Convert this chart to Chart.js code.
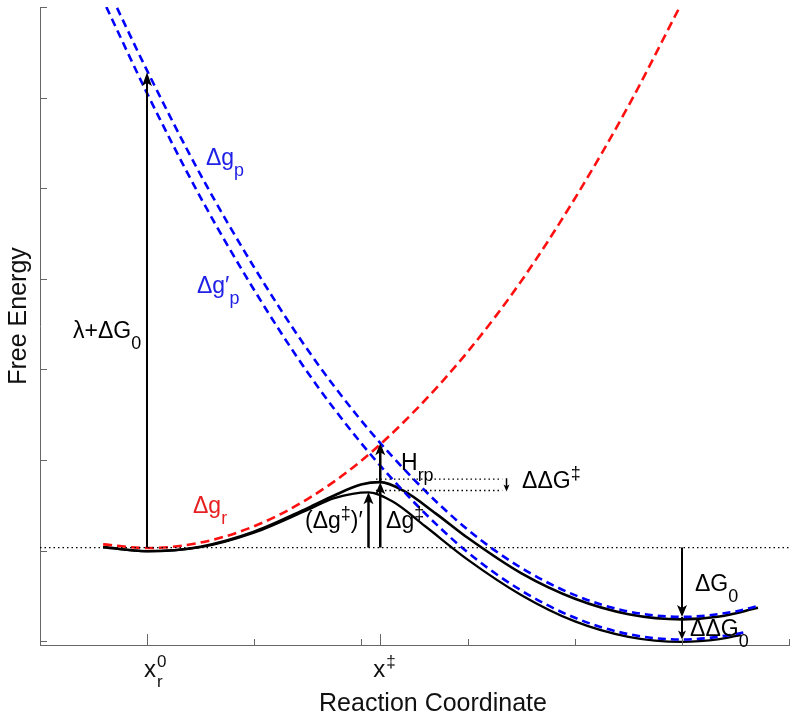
<!DOCTYPE html>
<html><head><meta charset="utf-8">
<script src="https://cdn.jsdelivr.net/npm/chart.js@4.4.1/dist/chart.umd.min.js"></script>
<style>html,body{margin:0;padding:0;background:#fff;} #wrap{width:800px;height:720px;}</style>
</head><body><div id="wrap"><canvas id="c" width="800" height="720"></canvas></div>
<script>
// ---- data (x: reaction coordinate, y: free energy) ----
const xTicks = [-1, 0, 1, 2, 3, 4, 5, 6];
const yTicks = [-1, 0, 1, 2, 3, 4, 5, 6];
const specialXTicks = [0, 2.18];

const redX = [-0.41, 0, 0.5, 1, 1.5, 2, 2.5, 3, 3.5, 4, 4.5, 4.97];
const redY = [0.07, 0.03, 0.09, 0.27, 0.57, 0.99, 1.54, 2.20, 2.98, 3.89, 4.91, 5.98];

const bluePX = [-0.28, 0, 0.5, 1, 1.5, 2, 2.5, 3, 3.5, 4, 4.5, 5, 5.5, 5.71];
const bluePY = [5.99, 5.30, 4.15, 3.13, 2.22, 1.44, 0.78, 0.23, -0.19, -0.49, -0.67, -0.73, -0.67, -0.61];

const blueP2X = [-0.38, 0, 0.5, 1, 1.5, 2, 2.5, 3, 3.5, 4, 4.5, 5, 5.5, 5.61];
const blueP2Y = [6.0, 5.05, 3.90, 2.88, 1.97, 1.19, 0.53, -0.02, -0.44, -0.74, -0.92, -0.98, -0.92, -0.89];

const gX = [-0.41, 0, 0.5, 1, 1.5, 1.75, 2, 2.18, 2.4, 2.7, 3, 3.5, 4, 4.5, 5, 5.35, 5.71];
const gY = [0.04, -0.005, 0.045, 0.21, 0.47, 0.61, 0.73, 0.757, 0.66, 0.41, 0.14, -0.25, -0.53, -0.70, -0.757, -0.725, -0.63];

const g2X = [-0.41, 0, 0.5, 1, 1.5, 1.75, 2.07, 2.3, 2.6, 3, 3.5, 4, 4.5, 5, 5.35, 5.55];
const g2Y = [0.04, -0.005, 0.04, 0.20, 0.45, 0.58, 0.645, 0.54, 0.27, -0.10, -0.49, -0.78, -0.95, -1.005, -0.975, -0.93];

const zeroX = [-1, 6];
const zeroY = [0.035, 0.035];
const peakX = [2.14, 3.32];
const peak1Y = [0.79, 0.79];
const peak2Y = [0.665, 0.665];

// arrows: x, start value, tip value
const arrowX    = [0, 2.18, 2.18, 2.07, 5, 5, 3.36];
const arrowFrom = [0.035, 0.035, 0.757, 0.035, 0.035, -0.73, 0.80];
const arrowTo   = [5.28, 0.757, 1.187, 0.645, -0.73, -0.98, 0.655];

const xTitle = 'Reaction Coordinate';
const yTitle = 'Free Energy';

// ---- styles ----
const FONT = "'Liberation Sans', Arial, 'DejaVu Sans', sans-serif";
const arrowLW = [2, 2.5, 2.5, 2.5, 2, 2, 1.5];
const arrowHL = [14, 12, 12, 12, 12, 9, 7];
const arrowHW = [5, 5, 5, 5, 5, 4, 3];

const textLabels = [
  {x: -0.692, y: 2.346, color: '#000', parts: [['λ+ΔG'], ['0', 'sub']]},
  {x: 0.551, y: 4.256, color: '#2020e6', parts: [['Δg'], ['p', 'sub']]},
  {x: 0.467, y: 2.843, color: '#2020e6', parts: [['Δg′'], ['p', 'sub']]},
  {x: 0.43, y: 0.413, color: '#e62020', parts: [['Δg'], ['r', 'sub']]},
  {x: 2.374, y: 0.888, color: '#000', parts: [['H'], ['rp', 'sub']]},
  {x: 3.505, y: 0.689, color: '#000', parts: [['ΔΔG'], ['‡', 'sup']]},
  {x: 1.477, y: 0.247, color: '#000', parts: [['(Δg'], ['‡', 'sup'], [')′']]},
  {x: 2.234, y: 0.247, color: '#000', parts: [['Δg'], ['‡', 'sup']]},
  {x: 5.121, y: -0.44, color: '#000', parts: [['ΔG'], ['0', 'sub']]},
  {x: 5.075, y: -0.937, color: '#000', parts: [['ΔΔG'], ['0', 'sub']]}
];

function pts(xs, ys) { return xs.map((v, i) => ({x: v, y: ys[i]})); }

function drawRich(ctx, x, y, parts, size, color) {
  let cx = x;
  ctx.fillStyle = color;
  ctx.textBaseline = 'alphabetic';
  ctx.textAlign = 'left';
  for (const [t, kind] of parts) {
    const s = kind ? size * 0.78 : size;
    ctx.font = s + 'px ' + FONT;
    const dy = kind === 'sub' ? size * 0.48 : kind === 'sup' ? -size * 0.42 : 0;
    ctx.fillText(t, cx, y + dy);
    cx += ctx.measureText(t).width;
  }
}

function drawArrow(ctx, px, py0, py1, lw, hl, hw) {
  const dir = Math.sign(py1 - py0);
  ctx.strokeStyle = '#000'; ctx.fillStyle = '#000'; ctx.lineWidth = lw;
  ctx.setLineDash([]);
  ctx.beginPath(); ctx.moveTo(px, py0); ctx.lineTo(px, py1 - dir * hl * 0.6); ctx.stroke();
  ctx.beginPath();
  ctx.moveTo(px, py1);
  ctx.lineTo(px - hw, py1 - dir * hl);
  ctx.lineTo(px, py1 - dir * hl * 0.75);
  ctx.lineTo(px + hw, py1 - dir * hl);
  ctx.closePath(); ctx.fill();
}

const annot = {
  id: 'annot',
  afterDraw(chart) {
    const {ctx, scales: {x, y}, chartArea: ca} = chart;
    ctx.save();
    // tick marks (inside)
    ctx.strokeStyle = '#666'; ctx.lineWidth = 1; ctx.setLineDash([]);
    yTicks.forEach(v => {
      const py = Math.round(y.getPixelForValue(v)) + 0.5;
      ctx.beginPath(); ctx.moveTo(ca.left, py); ctx.lineTo(ca.left + 7, py); ctx.stroke();
    });
    xTicks.forEach(v => {
      const px = Math.round(x.getPixelForValue(v)) + 0.5;
      ctx.beginPath(); ctx.moveTo(px, ca.bottom); ctx.lineTo(px, ca.bottom - 6); ctx.stroke();
    });
    specialXTicks.forEach(v => {
      const px = Math.round(x.getPixelForValue(v)) + 0.5;
      ctx.beginPath(); ctx.moveTo(px, ca.bottom); ctx.lineTo(px, ca.bottom - 11); ctx.stroke();
    });
    // tick labels
    const tb = ca.bottom + 32;
    const x0 = x.getPixelForValue(0) - 3;
    ctx.fillStyle = '#111'; ctx.textBaseline = 'alphabetic'; ctx.textAlign = 'left';
    ctx.font = '24px ' + FONT;
    ctx.fillText('x', x0, tb);
    const w0 = ctx.measureText('x').width;
    ctx.font = '17px ' + FONT;
    ctx.fillText('r', x0 + w0 + 1, tb + 10);
    ctx.fillText('0', x0 + w0 + 1, tb - 10);
    const x1 = x.getPixelForValue(2.18) - 7;
    ctx.font = '24px ' + FONT;
    ctx.fillText('x', x1, tb);
    const w1 = ctx.measureText('x').width;
    ctx.font = '17px ' + FONT;
    ctx.fillText('‡', x1 + w1 + 1, tb - 10);
    // axis titles
    ctx.font = '25px ' + FONT;
    ctx.fillStyle = '#111';
    ctx.textAlign = 'center';
    ctx.fillText(xTitle, ca.left + 393, ca.bottom + 66);
    ctx.save();
    ctx.translate(26, ca.top + 309);
    ctx.rotate(-Math.PI / 2);
    ctx.fillText(yTitle, 0, 0);
    ctx.restore();
    // arrows
    arrowX.forEach((ax, i) => {
      const px = x.getPixelForValue(ax);
      drawArrow(ctx, px, y.getPixelForValue(arrowFrom[i]), y.getPixelForValue(arrowTo[i]), arrowLW[i], arrowHL[i], arrowHW[i]);
    });
    // labels
    textLabels.forEach(l => drawRich(ctx, x.getPixelForValue(l.x), y.getPixelForValue(l.y), l.parts, 23, l.color));
    ctx.restore();
  }
};

const dotted = {borderColor: '#000', borderWidth: 1.3, borderDash: [1.5, 3], pointRadius: 0, fill: false};
const ctx = document.getElementById('c').getContext('2d');
new Chart(ctx, {
  type: 'line',
  data: {
    datasets: [
      Object.assign({label: 'zero', data: pts(zeroX, zeroY)}, dotted),
      Object.assign({label: 'peak1', data: pts(peakX, peak1Y)}, dotted),
      Object.assign({label: 'peak2', data: pts(peakX, peak2Y)}, dotted),
      {label: 'Δg_r', data: pts(redX, redY), borderColor: '#ff1010', borderWidth: 2.6, borderDash: [9, 5], pointRadius: 0, fill: false, cubicInterpolationMode: 'monotone'},
      {label: 'Δg_p', data: pts(bluePX, bluePY), borderColor: '#0000ff', borderWidth: 2.6, borderDash: [8, 5], pointRadius: 0, fill: false, cubicInterpolationMode: 'monotone'},
      {label: "Δg'_p", data: pts(blueP2X, blueP2Y), borderColor: '#0000ff', borderWidth: 2.6, borderDash: [8, 5], pointRadius: 0, fill: false, cubicInterpolationMode: 'monotone'},
      {label: 'adiabatic', data: pts(gX, gY), borderColor: '#000', borderWidth: 2.6, pointRadius: 0, fill: false, cubicInterpolationMode: 'monotone'},
      {label: "adiabatic'", data: pts(g2X, g2Y), borderColor: '#000', borderWidth: 2.3, pointRadius: 0, fill: false, cubicInterpolationMode: 'monotone'}
    ]
  },
  options: {
    responsive: false,
    animation: false,
    devicePixelRatio: 1,
    layout: {padding: {top: 7, right: 11, left: 0, bottom: 0}},
    plugins: {legend: {display: false}, tooltip: {enabled: false}},
    scales: {
      x: {
        type: 'linear', min: -1, max: 6,
        grid: {display: false}, ticks: {display: false},
        border: {display: true, color: '#666', width: 1},
        title: {display: false, text: xTitle},
        afterFit(s) { s.height = 75; }
      },
      y: {
        type: 'linear', min: -1.04, max: 6,
        grid: {display: false}, ticks: {display: false},
        border: {display: true, color: '#666', width: 1},
        title: {display: false, text: yTitle},
        afterFit(s) { s.width = 40; }
      }
    }
  },
  plugins: [annot]
});
</script></body></html>
